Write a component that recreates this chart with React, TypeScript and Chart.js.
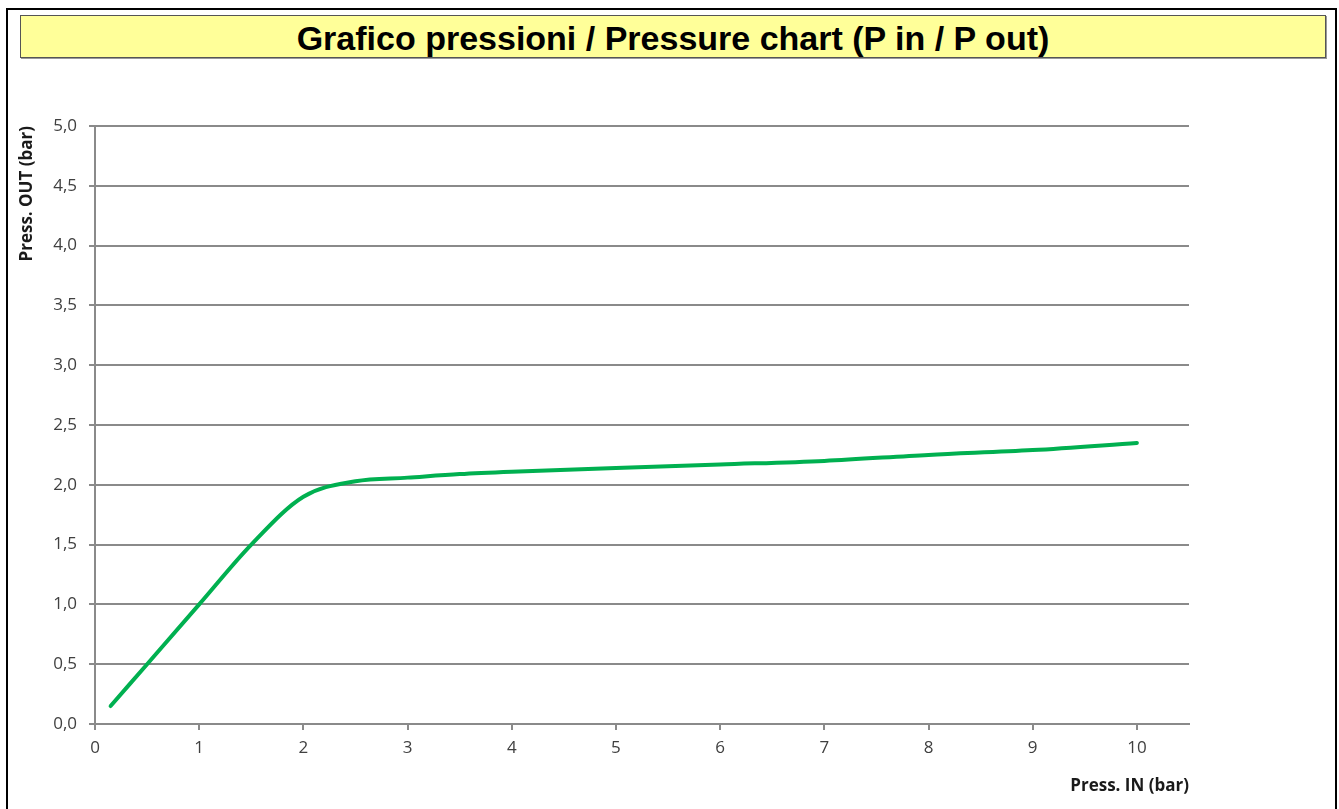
import React, { useEffect, useRef } from "react";
import { Chart, registerables } from "chart.js";

Chart.register(...registerables);

const TITLE = "Grafico pressioni / Pressure chart (P in / P out)";
const X_TITLE = "Press. IN (bar)";
const Y_TITLE = "Press. OUT (bar)";
const pressIn = [0.15, 0.5, 1, 1.5, 2, 2.5, 3, 3.5, 4, 5, 6, 7, 8, 9, 10];
const pressOut = [0.15, 0.5, 1.0, 1.5, 1.9, 2.03, 2.06, 2.09, 2.11, 2.14, 2.17, 2.2, 2.25, 2.29, 2.35];
const X_MIN = 0;
const X_MAX = 10.5;
const Y_MIN = 0;
const Y_MAX = 5;

const GRID = "#8a8a8a";
const FONT = "'Open Sans', 'Noto Sans', sans-serif";

export default function App() {
  const ref = useRef<HTMLCanvasElement | null>(null);

  useEffect(() => {
    if (!ref.current) return;
    const chart = new Chart(ref.current, {
      type: "line",
      data: {
        datasets: [
          {
            data: pressIn.map((x, i) => ({ x, y: pressOut[i] })),
            borderColor: "#00B050",
            borderWidth: 4,
            borderCapStyle: "round",
            borderJoinStyle: "round",
            pointRadius: 0,
            cubicInterpolationMode: "monotone",
            fill: false,
          },
        ],
      },
      options: {
        responsive: false,
        animation: false,
        layout: { padding: { left: 17, top: 126, right: 150, bottom: 10 } },
        plugins: { legend: { display: false }, tooltip: { enabled: false }, title: { display: false } },
        scales: {
          x: {
            type: "linear",
            min: X_MIN,
            max: X_MAX,
            afterFit: (s: any) => {
              s.height = 75;
            },
            ticks: {
              stepSize: 1,
              includeBounds: false,
              padding: 8,
              color: "#404040",
              font: { family: FONT, size: 17 },
              callback: (v: any) => String(v),
            },
            grid: { drawOnChartArea: false, drawTicks: true, tickLength: 6, color: GRID, lineWidth: 2 },
            border: { display: true, color: GRID, width: 2 },
            title: {
              display: true,
              text: X_TITLE,
              align: "end",
              color: "#1a1a1a",
              font: { family: FONT, size: 17, weight: "bold" },
              padding: { top: 0, bottom: 3 },
            },
          },
          y: {
            type: "linear",
            min: Y_MIN,
            max: Y_MAX,
            afterFit: (s: any) => {
              s.width = 78;
            },
            ticks: {
              stepSize: 0.5,
              padding: 12,
              color: "#404040",
              font: { family: FONT, size: 17 },
              callback: (v: any) => Number(v).toFixed(1).replace(".", ","),
            },
            grid: { drawOnChartArea: true, drawTicks: true, tickLength: 6, color: GRID, lineWidth: 2 },
            border: { display: true, color: GRID, width: 2 },
            title: {
              display: true,
              text: Y_TITLE,
              align: "end",
              color: "#1a1a1a",
              font: { family: FONT, size: 17, weight: "bold" },
              padding: { top: 0, bottom: 0 },
            },
          },
        },
      },
    } as any);
    return () => chart.destroy();
  }, []);

  return (
    <div style={{ position: "fixed", left: 0, top: 0, width: 1339, height: 809, background: "#fff", overflow: "hidden" }}>
      <div
        style={{
          position: "absolute",
          left: 6,
          top: 8,
          width: 1327,
          height: 900,
          border: "2px solid #000",
        }}
      />
      <div
        style={{
          position: "absolute",
          left: 20,
          top: 15,
          width: 1306,
          height: 43,
          background: "#FFFF99",
          border: "1px solid #555",
          boxShadow: "1px 1px 0 #999",
          display: "flex",
          alignItems: "center",
          justifyContent: "center",
          fontFamily: "'Liberation Sans', Arial, sans-serif",
          fontWeight: "bold",
          fontSize: 34,
          lineHeight: "43px",
          paddingTop: 3,
          boxSizing: "border-box",
          color: "#000",
        }}
      >
        {TITLE}
      </div>
      <canvas ref={ref} width={1339} height={809} style={{ position: "absolute", left: 0, top: 0 }} />
    </div>
  );
}
